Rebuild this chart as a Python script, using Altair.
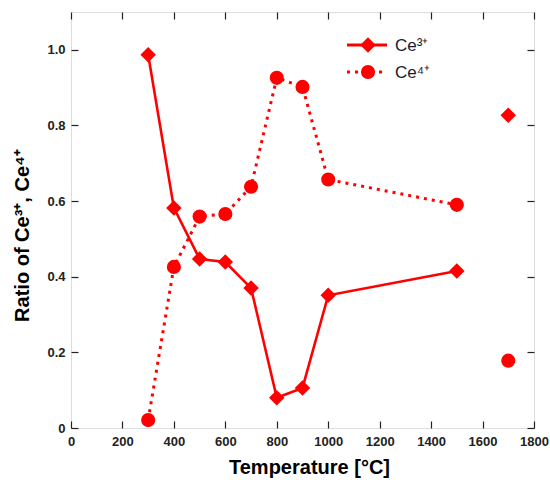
import altair as alt
import pandas as pd

# ---- data ----
temps = [300, 400, 500, 600, 700, 800, 900, 1000, 1500]
ce3 = [0.987, 0.582, 0.447, 0.439, 0.370, 0.080, 0.106, 0.351, 0.415]
ce4 = [0.021, 0.426, 0.559, 0.566, 0.638, 0.926, 0.902, 0.657, 0.590]
extra_temp = [1700]
ce3_extra = [0.827]
ce4_extra = [0.178]
series_names = ["Ce³⁺", "Ce⁴⁺"]
x_ticks = [0, 200, 400, 600, 800, 1000, 1200, 1400, 1600, 1800]
y_ticks = [0, 0.2, 0.4, 0.6, 0.8, 1.0]

W, H = 463, 416
RED = "#ff0000"
FONT = "Liberation Sans"

ce3_df = pd.DataFrame({"T": temps, "ratio": ce3})
ce4_df = pd.DataFrame({"T": temps, "ratio": ce4})
ce3_pts = pd.DataFrame({"T": temps + extra_temp, "ratio": ce3 + ce3_extra})
ce4_pts = pd.DataFrame({"T": temps + extra_temp, "ratio": ce4 + ce4_extra})

xscale = alt.Scale(domain=[0, 1800], nice=False, zero=False)
yscale = alt.Scale(domain=[0, 1.1], nice=False, zero=False)

axis_x_main = alt.Axis(orient="bottom", values=x_ticks, format="d", ticks=False, tickSize=0,
                       domain=False, grid=False, labelPadding=7, labelFont=FONT, labelFontSize=13,
                       labelFontWeight="bold", labelColor="#222", title="Temperature [°C]",
                       titleFont=FONT, titleFontSize=20, titleFontWeight="bold",
                       titleColor="#000", titlePadding=9, titleX=238, labelFlush=False)
axis_y_main = alt.Axis(orient="left", values=y_ticks, ticks=False, tickSize=0, domain=False,
                       grid=False, labelPadding=6, labelFont=FONT, labelFontSize=13,
                       labelFontWeight="bold", labelColor="#222",
                       labelExpr="datum.value == 0 ? '0' : format(datum.value, '.1f')",
                       title="Ratio of Ce³⁺, Ce⁴⁺", titleFont=FONT, titleFontSize=20,
                       titleFontWeight="bold", titleColor="#000", titlePadding=14, titleY=223)

def tick_axis(orient, offset, vals):
    return alt.Axis(orient=orient, offset=offset, values=vals, labels=False, domain=False,
                    grid=False, ticks=True, tickSize=7, tickColor="#222", tickWidth=1.2, title="")

ax_x_bottom_in = tick_axis("top", -H, x_ticks)     # ticks pointing up at bottom edge
ax_x_top_in = tick_axis("bottom", -H, x_ticks)     # ticks pointing down at top edge
ax_y_left_in = tick_axis("right", -W, y_ticks)     # ticks pointing right at left edge
ax_y_right_in = tick_axis("left", -W, y_ticks)     # ticks pointing left at right edge

line3 = alt.Chart(ce3_df).mark_line(color=RED, strokeWidth=2.6).encode(
    x=alt.X("T:Q", scale=xscale, axis=axis_x_main),
    y=alt.Y("ratio:Q", scale=yscale, axis=axis_y_main),
)
line4 = alt.Chart(ce4_df).mark_line(color=RED, strokeWidth=3, strokeDash=[3, 5]).encode(
    x=alt.X("T:Q", scale=xscale, axis=ax_x_bottom_in),
    y=alt.Y("ratio:Q", scale=yscale, axis=ax_y_left_in),
)
pts3 = alt.Chart(ce3_pts).mark_point(shape="diamond", filled=True, color=RED, size=240, opacity=1).encode(
    x=alt.X("T:Q", scale=xscale, axis=ax_x_top_in),
    y=alt.Y("ratio:Q", scale=yscale, axis=ax_y_right_in),
)
pts4 = alt.Chart(ce4_pts).mark_point(shape="circle", filled=True, color=RED, size=200, opacity=1).encode(
    x=alt.X("T:Q", scale=xscale, axis=None),
    y=alt.Y("ratio:Q", scale=yscale, axis=None),
)

# ---- manual legend ----
leg_df = pd.DataFrame({"series": series_names})
LX1, LX2, LSYM, LTX = 276, 316, 297, 324
LY = [33, 60]
leg_layers = []
for i, name in enumerate(series_names):
    d = alt.Chart(leg_df).transform_filter(alt.datum.series == name)
    if i == 0:
        rule = d.mark_rule(color=RED, strokeWidth=3)
        sym = d.mark_point(shape="diamond", filled=True, color=RED, size=240, opacity=1)
    else:
        rule = d.mark_rule(color=RED, strokeWidth=3, strokeDash=[3, 5], strokeCap="butt")
        sym = d.mark_point(shape="circle", filled=True, color=RED, size=200, opacity=1)
    leg_layers.append(rule.encode(x=alt.value(LX1), x2=alt.value(LX2), y=alt.value(LY[i])))
    leg_layers.append(sym.encode(x=alt.value(LSYM), y=alt.value(LY[i])))
    leg_layers.append(d.mark_text(align="left", baseline="middle", font=FONT, fontSize=17,
                                  color="#1a1a2a").encode(
        x=alt.value(LTX), y=alt.value(LY[i] + 1), text="series:N"))

chart = alt.layer(line3, line4, pts3, pts4, *leg_layers).resolve_axis(
    x="independent", y="independent"
).properties(
    width=W, height=H,
    autosize=alt.AutoSizeParams(type="none"),
    padding={"left": 71, "top": 12, "right": 16, "bottom": 52},
).configure_view(stroke="#222", strokeWidth=1.5).configure(background="white")

chart.save("out.html", embed_options={"renderer": "svg", "actions": False})
